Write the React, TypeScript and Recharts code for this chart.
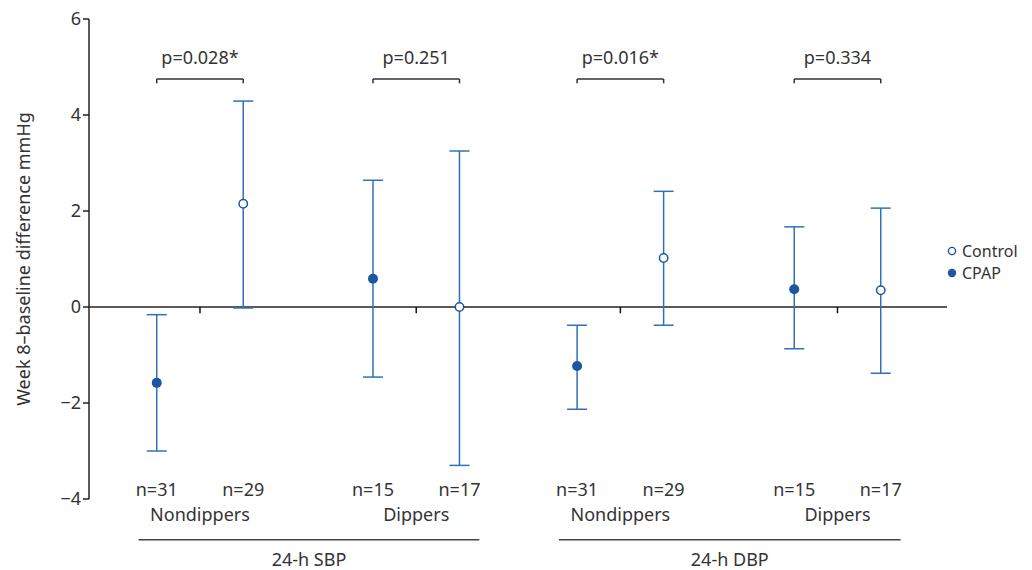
import React from 'react';
import {
  ScatterChart,
  Scatter,
  XAxis,
  YAxis,
  ErrorBar,
  ReferenceLine,
  ReferenceDot,
} from 'recharts';

// values (mean change with 95% CI)
const cpapX = [1, 3.5, 5.86, 8.37];
const cpapMean = [-1.58, 0.59, -1.23, 0.37];
const cpapLow = [-3.0, -1.46, -2.13, -0.87];
const cpapHigh = [-0.16, 2.64, -0.38, 1.67];

const controlX = [2, 4.5, 6.86, 9.37];
const controlMean = [2.15, 0.0, 1.02, 0.35];
const controlLow = [-0.02, -3.3, -0.38, -1.38];
const controlHigh = [4.29, 3.25, 2.41, 2.06];

const cpapN = ['n=31', 'n=15', 'n=31', 'n=15'];
const controlN = ['n=29', 'n=17', 'n=29', 'n=17'];
const subgroupLabels = ['Nondippers', 'Dippers', 'Nondippers', 'Dippers'];
const measureLabels = ['24-h SBP', '24-h DBP'];
const pValues = ['p=0.028*', 'p=0.251', 'p=0.016*', 'p=0.334'];
const yTicks = [-4, -2, 0, 2, 4, 6];

const BLUE = '#1b56a3';
const BAR = '#3170b6';
const TEXT = '#333';
const FONT = '"Noto Sans", sans-serif';
const FS = 18;

const toRows = (xs: number[], mean: number[], low: number[], high: number[]) =>
  xs.map((x, i) => ({ x, y: mean[i], err: [mean[i] - low[i], high[i] - mean[i]] }));

const cpapData = toRows(cpapX, cpapMean, cpapLow, cpapHigh);
const controlData = toRows(controlX, controlMean, controlLow, controlHigh);

// annotation rows (y in axis units)
const N_Y = -3.8;
const SUB_Y = -4.33;
const LINE_Y = -4.85;
const MEAS_Y = -5.27;
const BRACKET_Y = 4.75;
const BRACKET_DROP = 0.09;
const P_Y = 5.2;

const fmt = (v: number) => (v < 0 ? `\u2212${Math.abs(v)}` : `${v}`);

const FilledDot = (props: any) => <circle cx={props.cx} cy={props.cy} r={5} fill={BLUE} />;
const OpenDot = (props: any) => (
  <circle cx={props.cx} cy={props.cy} r={4.2} fill="#fff" stroke={BLUE} strokeWidth={1.5} />
);

const textLabel = (value: string) => ({
  value,
  position: 'center' as const,
  fill: TEXT,
  fontSize: FS,
  fontFamily: FONT,
});

const legendItems = [
  { name: 'Control', open: true },
  { name: 'CPAP', open: false },
];

const LegendBox = () => (
  <div
    style={{
      position: 'absolute',
      left: 946,
      top: 240,
      fontFamily: FONT,
      fontSize: 16,
      color: TEXT,
      lineHeight: '22px',
    }}
  >
    {legendItems.map((it) => (
      <div key={it.name} style={{ display: 'flex', alignItems: 'center', height: 22 }}>
        <svg width={13} height={12} style={{ marginRight: 3 }}>
          {it.open ? (
            <circle cx={6} cy={6} r={3.6} fill="#fff" stroke={BLUE} strokeWidth={1.4} />
          ) : (
            <circle cx={6} cy={6} r={4.2} fill={BLUE} />
          )}
        </svg>
        {it.name}
      </div>
    ))}
  </div>
);

export default function App() {
  const pairs = cpapX.map((x, i) => ({ a: x, b: controlX[i], mid: (x + controlX[i]) / 2 }));
  const measures = [0, 1].map((m) => {
    const start = pairs[m * 2].a - 0.21;
    const end = pairs[m * 2 + 1].b + 0.23;
    return { start, end, mid: (start + end) / 2 };
  });

  return (
    <div style={{ position: 'absolute', left: 0, top: 0, width: 1032, height: 570, background: '#fff', fontFamily: FONT }}>
      <ScatterChart width={1032} height={570} margin={{ top: 19, right: 85, bottom: 71, left: 0 }}>
        <XAxis type="number" dataKey="x" domain={[0.217, 10.136]} hide allowDataOverflow />
        <YAxis
          type="number"
          dataKey="y"
          domain={[-4, 6]}
          ticks={yTicks}
          width={89}
          tickFormatter={fmt}
          tickSize={6}
          tickMargin={2}
          axisLine={{ stroke: '#222', strokeWidth: 1.5 }}
          tickLine={{ stroke: '#222', strokeWidth: 1.5 }}
          tick={{ fill: TEXT, fontSize: FS, fontFamily: FONT }}
          label={{
            value: 'Week 8\u2013baseline difference mmHg',
            angle: -90,
            position: 'insideLeft',
            offset: 24,
            style: { textAnchor: 'middle', fill: TEXT, fontSize: FS, fontFamily: FONT },
          }}
        />

        <ReferenceLine y={0} stroke="#5a5a5a" strokeWidth={2} />
        {pairs.map((p, i) => (
          <ReferenceLine
            key={`tk${i}`}
            segment={[{ x: p.mid, y: 0 }, { x: p.mid, y: -0.13 }]}
            stroke="#111"
            strokeWidth={1.5}
          />
        ))}

        {/* significance brackets */}
        {pairs.map((p, i) => (
          <ReferenceLine
            key={`br${i}`}
            segment={[{ x: p.a, y: BRACKET_Y }, { x: p.b, y: BRACKET_Y }]}
            stroke="#333"
            strokeWidth={1.5}
          />
        ))}
        {pairs.map((p, i) => (
          <ReferenceLine
            key={`bl${i}`}
            segment={[{ x: p.a, y: BRACKET_Y }, { x: p.a, y: BRACKET_Y - BRACKET_DROP }]}
            stroke="#333"
            strokeWidth={1.5}
          />
        ))}
        {pairs.map((p, i) => (
          <ReferenceLine
            key={`brr${i}`}
            segment={[{ x: p.b, y: BRACKET_Y }, { x: p.b, y: BRACKET_Y - BRACKET_DROP }]}
            stroke="#333"
            strokeWidth={1.5}
          />
        ))}
        {pairs.map((p, i) => (
          <ReferenceDot
            key={`pv${i}`}
            x={p.mid}
            y={P_Y}
            r={0}
            fill="none"
            stroke="none"
            ifOverflow="visible"
            label={textLabel(pValues[i])}
          />
        ))}

        {/* group annotations below the plot */}
        {pairs.map((p, i) => (
          <ReferenceDot key={`nc${i}`} x={p.a} y={N_Y} r={0} fill="none" stroke="none" ifOverflow="visible" label={textLabel(cpapN[i])} />
        ))}
        {pairs.map((p, i) => (
          <ReferenceDot key={`nk${i}`} x={p.b} y={N_Y} r={0} fill="none" stroke="none" ifOverflow="visible" label={textLabel(controlN[i])} />
        ))}
        {pairs.map((p, i) => (
          <ReferenceDot key={`sg${i}`} x={p.mid} y={SUB_Y} r={0} fill="none" stroke="none" ifOverflow="visible" label={textLabel(subgroupLabels[i])} />
        ))}
        {measures.map((m, i) => (
          <ReferenceLine
            key={`ml${i}`}
            segment={[{ x: m.start, y: LINE_Y }, { x: m.end, y: LINE_Y }]}
            stroke="#444"
            strokeWidth={1.5}
            ifOverflow="visible"
          />
        ))}
        {measures.map((m, i) => (
          <ReferenceDot key={`mt${i}`} x={m.mid} y={MEAS_Y} r={0} fill="none" stroke="none" ifOverflow="visible" label={textLabel(measureLabels[i])} />
        ))}

        <Scatter name="Control" data={controlData} shape={OpenDot} isAnimationActive={false}>
          <ErrorBar dataKey="err" direction="y" width={10} stroke={BAR} strokeWidth={1.5} isAnimationActive={false} />
        </Scatter>
        <Scatter name="CPAP" data={cpapData} shape={FilledDot} isAnimationActive={false}>
          <ErrorBar dataKey="err" direction="y" width={10} stroke={BAR} strokeWidth={1.5} isAnimationActive={false} />
        </Scatter>
      </ScatterChart>
      <LegendBox />
    </div>
  );
}
